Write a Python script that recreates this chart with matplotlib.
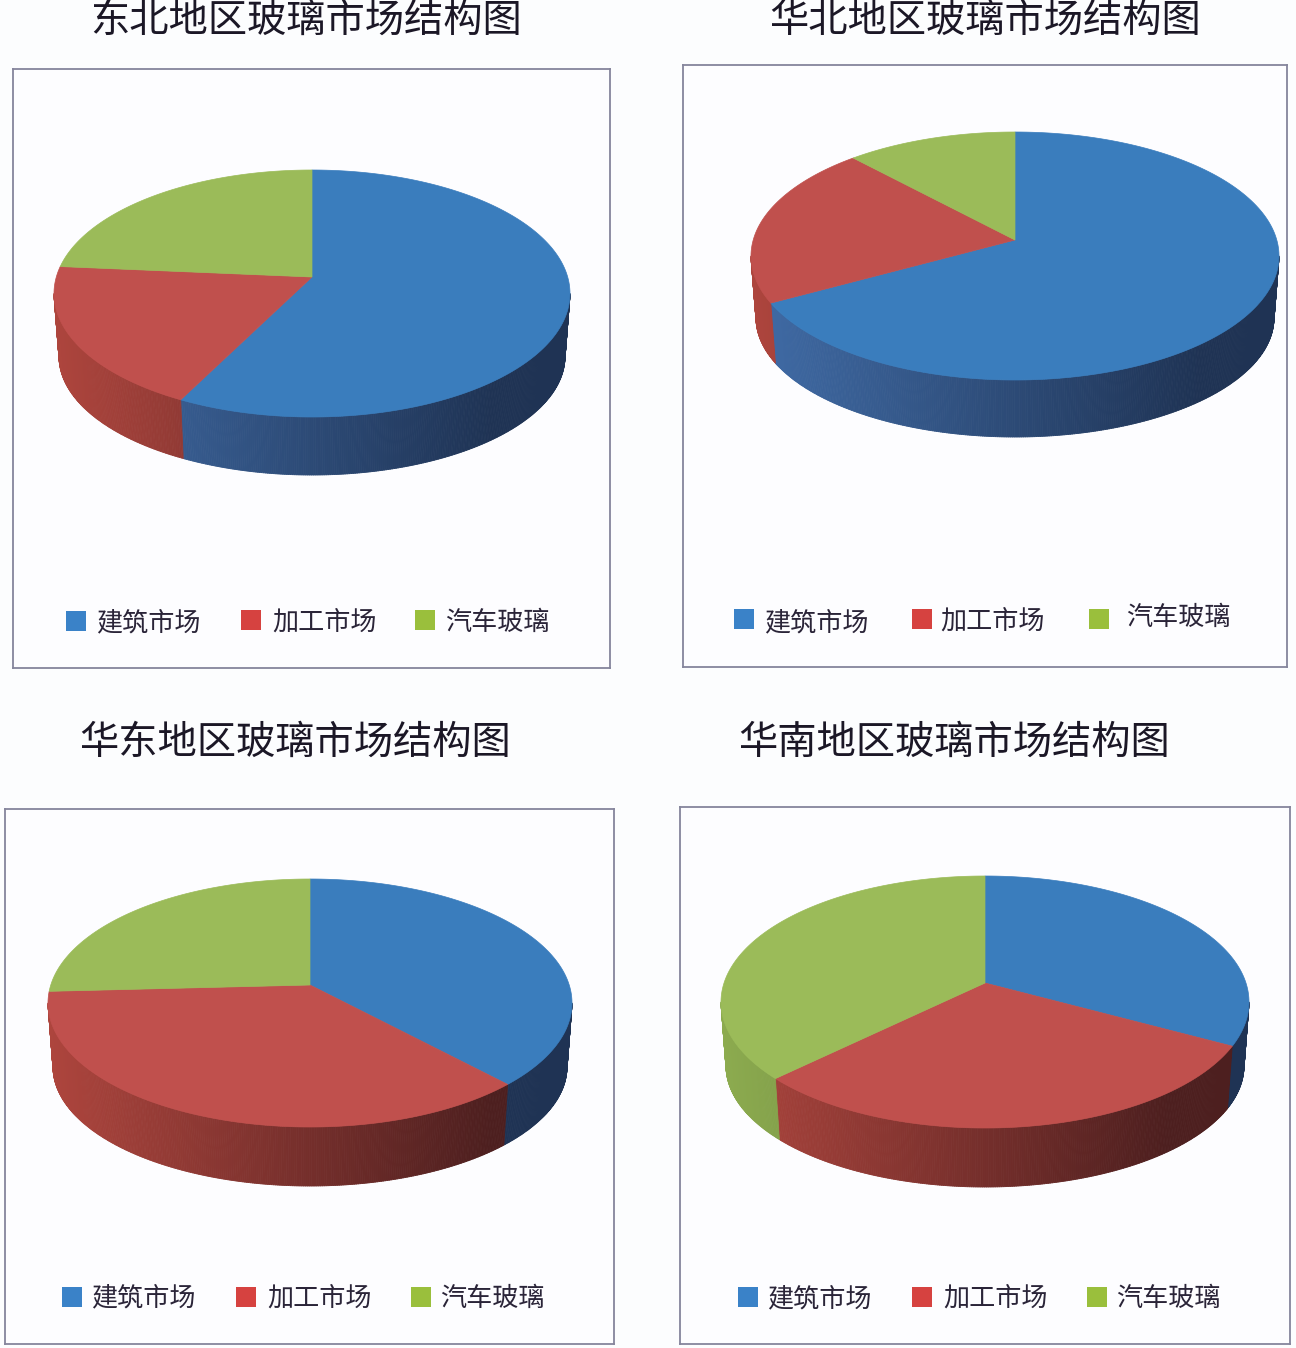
import numpy as np
import matplotlib
matplotlib.use('Agg')
import matplotlib.pyplot as plt
from matplotlib.collections import PolyCollection
from matplotlib.patches import Rectangle

plt.rcParams['font.family'] = ['Noto Sans CJK SC', 'DejaVu Sans']

# market names
labels = ['建筑市场', '加工市场', '汽车玻璃']

# shares (percent), clockwise from 12 o'clock
dongbei = [58.5, 20.0, 21.5]
huabei = [68.8, 20.7, 10.5]
huadong = [36.4, 40.1, 23.5]
huanan = [30.7, 33.9, 35.4]

titles = ['东北地区玻璃市场结构图', '华北地区玻璃市场结构图',
          '华东地区玻璃市场结构图', '华南地区玻璃市场结构图']

top_colors = ['#3A7DBD', '#C0504D', '#9BBB59']
legend_colors = ['#3A82C8', '#D64240', '#9ABF3C']
side_left = [(0.25, 0.42, 0.65), (0.68, 0.27, 0.24), (0.55, 0.67, 0.31)]
side_right = [(0.12, 0.20, 0.33), (0.30, 0.12, 0.12), (0.30, 0.40, 0.18)]


# Panel layout in picture pixels
panels = [
    dict(values=dongbei, frame=(13, 69, 610, 668), cx=312, cy=293.5, rx=258, ry=123.5, apex=277,
         depth=58, title=(306, 21),
         squares=[(66, 621), (241, 620), (415, 620)], texts=[(96, 623), (272, 622), (445, 622)]),
    dict(values=huabei, frame=(683, 65, 1287, 667), cx=1015, cy=256, rx=264, ry=124, apex=240,
         depth=57, title=(985, 21),
         squares=[(734, 619), (912, 619), (1089, 619)], texts=[(764, 623), (940, 621), (1126, 617)]),
    dict(values=huadong, frame=(5, 809, 614, 1344), cx=310, cy=1003, rx=262, ry=124, apex=985,
         depth=59, title=(295, 743),
         squares=[(62, 1297), (236, 1297), (411, 1297)], texts=[(91, 1298), (267, 1298), (440, 1298)]),
    dict(values=huanan, frame=(680, 807, 1290, 1344), cx=985, cy=1002, rx=264, ry=126, apex=983,
         depth=59, title=(954, 743),
         squares=[(738, 1297), (912, 1297), (1087, 1297)], texts=[(767, 1299), (943, 1298), (1116, 1298)]),
]


def draw_pie(ax, p):
    cx, cy, rx, ry = p['cx'], p['cy'], p['rx'], p['ry']
    edges = np.concatenate([[0], np.cumsum(p['values'])]) / np.sum(p['values']) * 2 * np.pi

    # rim: thin slices along the front of the disc, shaded dark to the right
    low_rx = rx - 5
    low_ry = ry - 5
    low_cy = cy + p['depth'] + 5
    for i in range(3):
        start = max(edges[i], np.pi / 2)
        end = min(edges[i + 1], 3 * np.pi / 2)
        if end <= start:
            continue
        ts = np.linspace(start, end, int((end - start) * 120) + 2)
        quads, cols = [], []
        for a, b in zip(ts[:-1], ts[1:]):
            quads.append([(cx + rx * np.sin(a), cy - ry * np.cos(a)),
                          (cx + rx * np.sin(b), cy - ry * np.cos(b)),
                          (cx + low_rx * np.sin(b), low_cy - low_ry * np.cos(b)),
                          (cx + low_rx * np.sin(a), low_cy - low_ry * np.cos(a))])
            frac = np.clip((np.sin((a + b) / 2) + 1) / 1.7, 0, 1)
            cols.append(tuple(l + (r - l) * frac for l, r in zip(side_left[i], side_right[i])))
        ax.add_collection(PolyCollection(quads, facecolors=cols, edgecolors=cols, linewidths=0.6))

    # top of the disc, the apex sits above the ellipse centre
    for i in range(3):
        ts = np.linspace(edges[i], edges[i + 1], 200)
        xs = np.concatenate([[cx], cx + rx * np.sin(ts)])
        ys = np.concatenate([[p['apex']], cy - ry * np.cos(ts)])
        ax.fill(xs, ys, color=top_colors[i], lw=0.5, zorder=3)


fig = plt.figure(figsize=(12.96, 13.48), dpi=100, facecolor='#FCFDFE')

for p, title in zip(panels, titles):
    x0, y0, x1, y1 = p['frame']
    ax = fig.add_axes([x0 / 1296, 1 - y1 / 1348, (x1 - x0) / 1296, (y1 - y0) / 1348])
    ax.set_xlim(x0, x1)
    ax.set_ylim(y1, y0)
    ax.set_facecolor('#FDFDFF')
    ax.set_xticks([])
    ax.set_yticks([])
    for s in ax.spines.values():
        s.set_color('#85859C')
        s.set_linewidth(1.3)

    draw_pie(ax, p)

    ax.text(p['title'][0], p['title'][1], title, fontsize=28.3, color='#1B1726', ha='center',
            va='center', clip_on=False)
    for name, col, sq, tx in zip(labels, legend_colors, p['squares'], p['texts']):
        ax.add_patch(Rectangle((sq[0], sq[1] - 10), 20, 20, facecolor=col, edgecolor='none', zorder=3))
        ax.text(tx[0], tx[1], name, fontsize=18.8, color='#2A2438', ha='left', va='center')

fig.savefig('out.png', dpi=100, facecolor=fig.get_facecolor())
